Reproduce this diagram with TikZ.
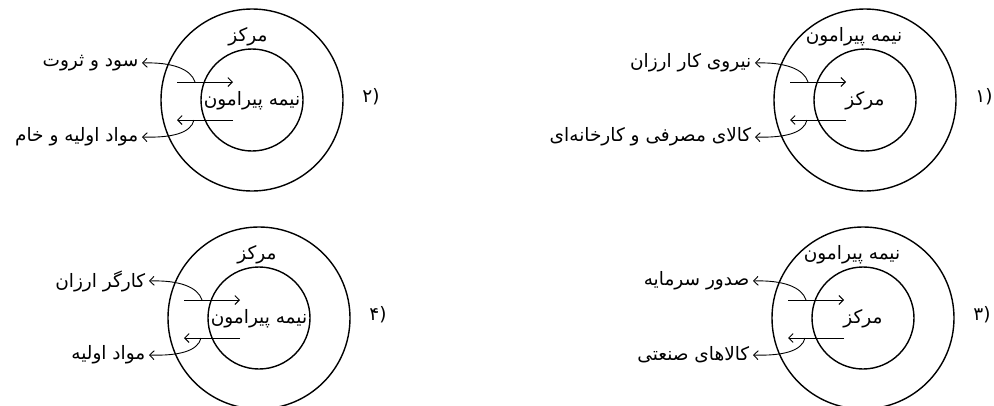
\documentclass[tikz,border=0pt]{standalone}
\usepackage{fontspec}
\newfontfamily\fa[Script=Arabic]{DejaVu Sans}
\TeXXeTstate=1
\usetikzlibrary{arrows.meta}
\tikzset{
  ring/.style={circle, draw, inner sep=0pt, line width=1.4pt},
  lbl/.style={inner sep=2pt, font=\fa\fontsize{18.5}{21}\selectfont},
  side/.style={lbl, anchor=east, inner sep=3.5pt},
  arr/.style={line width=0.9pt, -{Straight Barb[length=4.5pt,width=9pt]}},
}
% #1 prefix, #2 cx, #3 cy, #4 top label, #5 top x-offset, #6 inner label, #7 upper text, #8 lower text, #9 number
\newcommand\cpdiag[9]{%
\begin{scope}[shift={(#2,#3)}]
  \node[ring, minimum size=182pt] (#1o) at (0,0) {};
  \node[ring, minimum size=102pt] (#1i) at (0,0) {};
  \node[lbl] (#1t) at (#5,-63) {#4};
  \node[lbl] (#1c) at (0,1) {#6};
  \node[side] (#1u) at (-110,-37) {#7};
  \node[side] (#1d) at (-110,37) {#8};
  \node[lbl] (#1n) at (119,-3) {(#9};
  \coordinate (#1a) at (-75,-18);
  \coordinate (#1b) at (-19,-18);
  \coordinate (#1e) at (-19,20);
  \coordinate (#1f) at (-75,20);
  \coordinate (#1g) at (-57,-18);
  \coordinate (#1h) at (-58,20);
  \draw[arr] (#1a) -- (#1b);
  \draw[arr] (#1e) -- (#1f);
  \draw[arr] (#1g) .. controls (-61,-31) and (-80,-38) .. (#1u.east);
  \draw[arr] (#1h) .. controls (-61,33) and (-80,38) .. (#1d.east);
\end{scope}}
\begin{document}
\begin{tikzpicture}[x=1pt,y=-1pt]
\useasboundingbox (0,0) rectangle (994,405);
\cpdiag{A}{865}{100}{\beginR نیمه پیرامون\endR}{-11}{\beginR مرکز\endR}{\beginR نیروی کار ارزان\endR}{\beginR کالای مصرفی و کارخانه‌ای\endR}{۱}
\cpdiag{B}{252}{100}{\beginR مرکز\endR}{-4}{\beginR نیمه پیرامون\endR}{\beginR سود و ثروت\endR}{\beginR مواد اولیه و خام\endR}{۲}
\cpdiag{C}{863}{318}{\beginR نیمه پیرامون\endR}{-11}{\beginR مرکز\endR}{\beginR صدور سرمایه\endR}{\beginR کالاهای صنعتی\endR}{۳}
\cpdiag{D}{259}{318}{\beginR مرکز\endR}{-2}{\beginR نیمه پیرامون\endR}{\beginR کارگر ارزان\endR}{\beginR مواد اولیه\endR}{۴}
\end{tikzpicture}
\end{document}
